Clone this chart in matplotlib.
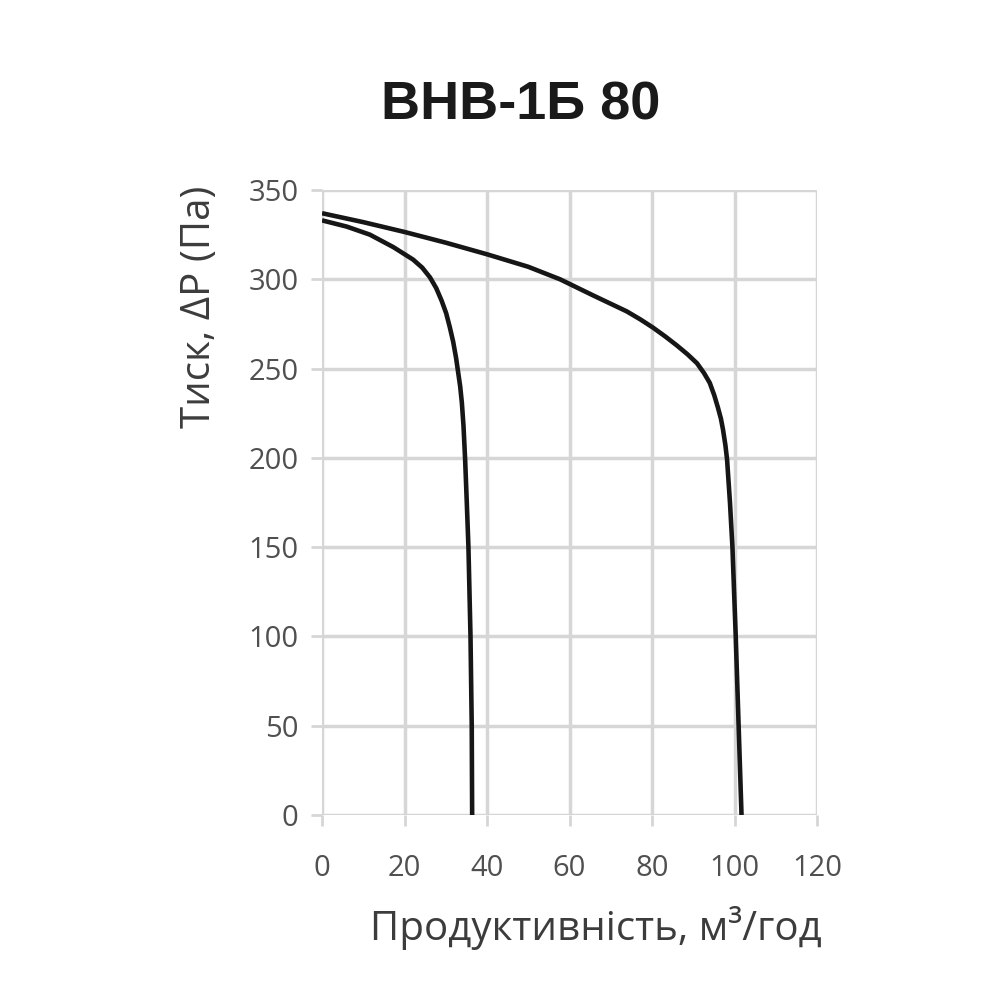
import numpy as np
import matplotlib.pyplot as plt

# ВНВ-1Б 80: характеристики (продуктивність, м3/год; тиск, Па)
small_flow = [0, 6, 11.6, 17.3, 22.1, 24.3, 26.2, 27.7, 29.0, 30.1, 31.0, 31.8, 32.5,
              33.0, 33.5, 33.9, 34.3, 34.7, 35.1, 35.5, 36.0, 36.3, 36.4]
small_pressure = [333, 329.5, 325, 318, 311, 306.5, 301, 295, 288, 281, 273, 265, 256,
                  248, 240, 231, 218, 199, 175, 150, 100, 50, 0]

large_flow = [0, 10, 20, 30, 40, 50, 57.7, 65.7, 73.9, 77.2, 80.2, 83.2, 86.0, 88.6,
              90.9, 92.6, 94.0, 95.1, 96.0, 96.7, 97.2, 97.8, 98.2, 98.9, 99.5, 100.3,
              101.0, 101.7]
large_pressure = [337, 332, 326.5, 320.5, 314, 307, 300, 291, 282, 277.5, 273, 268, 263,
                  258, 253, 247.5, 242, 235, 228, 222, 216, 207, 199, 175, 150, 100,
                  50, 0]

x_ticks = [0, 20, 40, 60, 80, 100, 120]
y_ticks = [0, 50, 100, 150, 200, 250, 300, 350]

title = 'ВНВ-1Б 80'
x_label = 'Продуктивність, м³/год'
y_label = 'Тиск, ΔP (Па)'

plt.rcParams['font.family'] = ['Open Sans', 'DejaVu Sans']

fig = plt.figure(figsize=(10, 10), dpi=100)
ax = fig.add_axes([0.322, 0.185, 0.495, 0.625])

grid_color = '#d6d6d6'
for v in x_ticks:
    ax.axvline(v, color=grid_color, lw=2.5, zorder=1)
for v in y_ticks:
    ax.axhline(v, color=grid_color, lw=2.5, zorder=1)

for fx, fy in [(small_flow, small_pressure), (large_flow, large_pressure)]:
    ax.plot(fx, fy, color='#161616', lw=3.3, zorder=3,
            solid_joinstyle='round', solid_capstyle='butt')

ax.set_xlim(0, 120)
ax.set_ylim(0, 350)
ax.set_xticks(x_ticks)
ax.set_yticks(y_ticks)
for s in ax.spines.values():
    s.set_visible(False)
ax.tick_params(axis='x', colors=grid_color, length=8, width=2, pad=20,
               labelcolor='#505050', labelsize=21)
ax.tick_params(axis='y', colors=grid_color, length=8, width=2, pad=9,
               labelcolor='#505050', labelsize=21)

fig.text(0.521, 0.895, title, ha='center', va='center', fontsize=39,
         fontweight='bold', family='Liberation Sans', color='#1a1a1a')
fig.text(0.596, 0.072, x_label, ha='center', va='center', fontsize=29, color='#3c3c3c')
fig.text(0.200, 0.693, y_label, ha='center', va='center', fontsize=29, color='#3c3c3c',
         rotation=90)

fig.savefig('out.png', dpi=100, facecolor='white')
